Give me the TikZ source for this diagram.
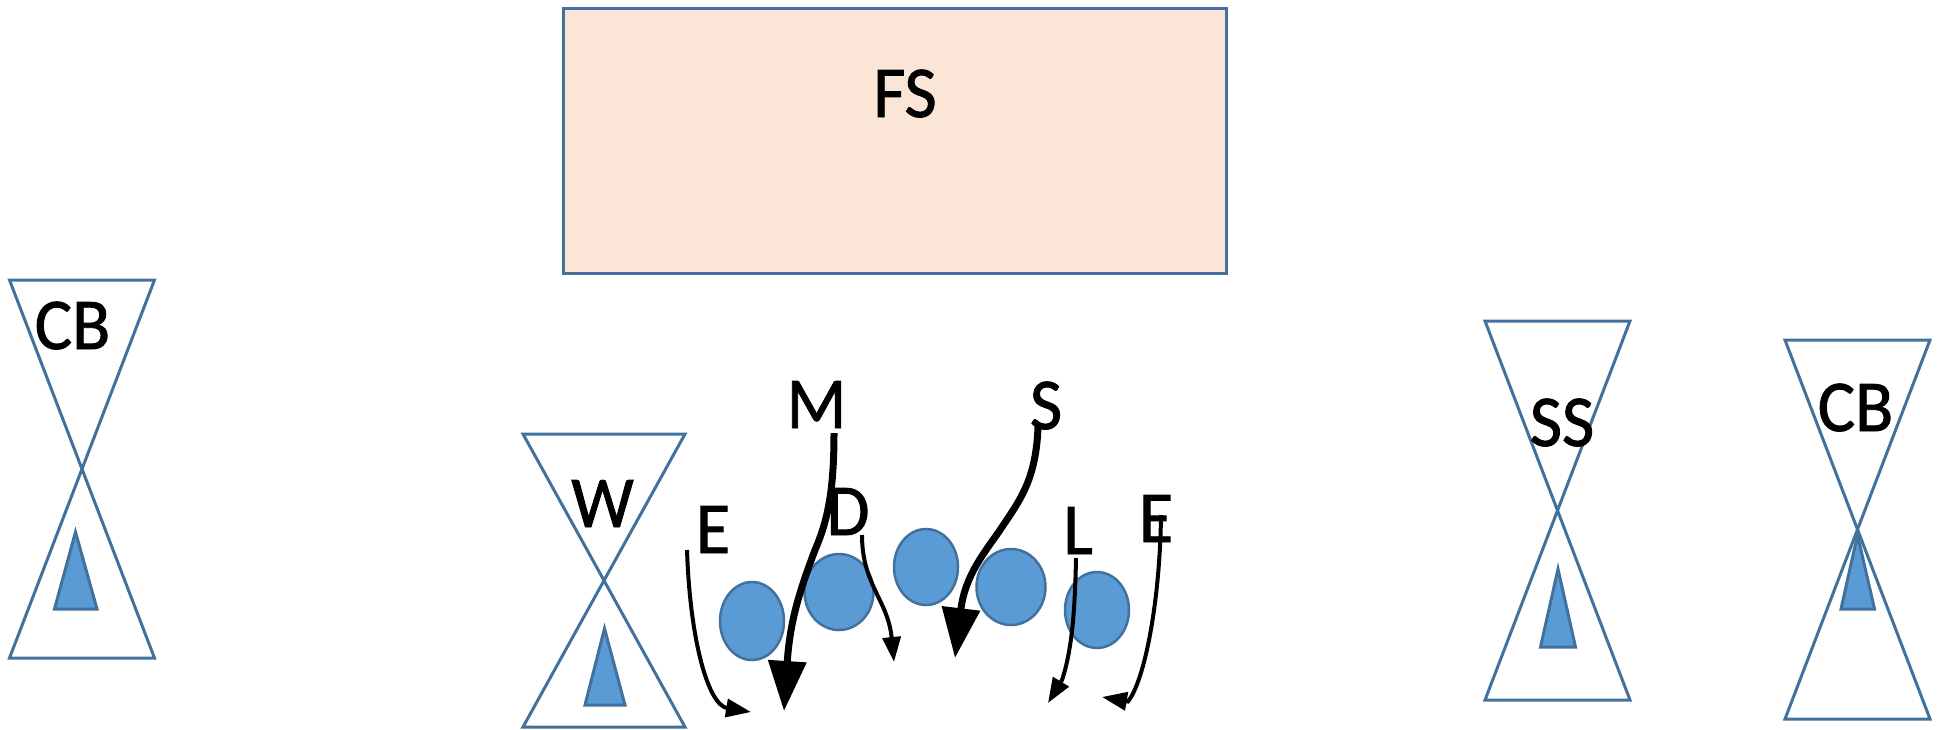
\documentclass[tikz,border=0pt]{standalone}
\usepackage{fontspec}
\setmainfont{Carlito}
\newfontfamily\labfont[FakeBold=1.2,FakeStretch=0.96]{Carlito}
\usetikzlibrary{arrows.meta,shapes.geometric}
\definecolor{edgeblue}{HTML}{41719C}
\definecolor{fillblue}{HTML}{5B9BD5}
\definecolor{fspeach}{HTML}{FBE5D6}
\tikzset{
  glass/.style={draw=edgeblue,line width=3pt,line join=miter},
  cone/.style={draw=edgeblue,fill=fillblue,line width=3pt,line join=miter},
  ball/.style={ellipse,draw=edgeblue,fill=fillblue,line width=2.5pt,inner sep=0pt},
  fsbox/.style={rectangle,draw=edgeblue,fill=fspeach,line width=3pt,inner sep=0pt},
  lab/.style={anchor=base,inner sep=0pt,text=black,font=\labfont\fontsize{73}{80}\selectfont},
  bigflow/.style={draw=black,line width=7pt,-{Triangle[width=37pt,length=50pt]}},
  smallflow/.style={draw=black,line width=4pt,-{Triangle[width=18pt,length=25pt]}}
}
\begin{document}
\begin{tikzpicture}[x=1pt,y=-1pt]
\useasboundingbox (0,0) rectangle (1946,729);
% FS box
\node[fsbox,minimum width=663pt,minimum height=265pt] (fs) at (894.5,140.5) {};
% inner cones
\draw[cone] (75.5,532) -- (97,609) -- (54.5,609) -- cycle;
\draw[cone] (604.5,628.5) -- (625,705) -- (585,705) -- cycle;
\draw[cone] (1558,569) -- (1575.5,647) -- (1540.5,647) -- cycle;
\draw[cone] (1857.5,535) -- (1874.5,609) -- (1841,609) -- cycle;
% hourglasses
\draw[glass] (9.5,280) -- (154.5,280) -- (9.5,658) -- (154.5,658) -- cycle;
\draw[glass] (523,434) -- (685,434) -- (523,727) -- (685,727) -- cycle;
\draw[glass] (1485,321) -- (1630,321) -- (1485,700) -- (1630,700) -- cycle;
\draw[glass] (1785,340) -- (1930,340) -- (1785,719) -- (1930,719) -- cycle;
% balls
\node[ball,minimum width=64pt,minimum height=78pt] (b1) at (752,621) {};
\node[ball,minimum width=69pt,minimum height=76pt] (b2) at (839,592) {};
\node[ball,minimum width=64pt,minimum height=76pt] (b3) at (926,567) {};
\node[ball,minimum width=69pt,minimum height=76pt] (b4) at (1011,587) {};
\node[ball,minimum width=64pt,minimum height=76pt] (b5) at (1097,610) {};
% labels
\node[lab] (tfs) at (905,117) {FS};
\node[lab] (tcb1) at (72.5,349) {CB};
\node[lab] (tw) at (602.5,527) {W};
\node[lab] (te1) at (713,553) {E};
\node[lab] (tm) at (816.5,428) {M};
\node[lab] (td) at (848,535) {D};
\node[lab] (ts) at (1046,429) {S};
\node[lab] (tl) at (1078,554) {L};
\node[lab] (te2) at (1156,542) {E};
\node[lab] (tss) at (1562,446) {SS};
\node[lab] (tcb2) at (1855.5,431) {CB};
% connector ends
\coordinate (m0) at (834,433);   \coordinate (m1) at (784,711);
\coordinate (s0) at (1038,427);  \coordinate (s1) at (955,658);
\coordinate (d0) at (862,535);   \coordinate (d1) at (894,662);
\coordinate (e0) at (687,550);   \coordinate (e1) at (751,712);
\coordinate (l0) at (1076,558);  \coordinate (l1) at (1048,703);
\coordinate (r0) at (1161,515);  \coordinate (r1) at (1102,697);
% flows
\draw[bigflow] (m0) .. controls (834,490) and (828,520) .. (815,550) .. controls (800,590) and (790,620) .. (m1);
\draw[bigflow] (s0) .. controls (1036,480) and (1020,500) .. (1000,530) .. controls (985,552) and (965,575) .. (s1);
\draw[smallflow] (d0) .. controls (862,585) and (888,600) .. (d1);
\draw[smallflow] (e0) .. controls (690,640) and (708,705) .. (e1);
\draw[smallflow] (l0) .. controls (1075,610) and (1072,650) .. (1062,680) -- (l1);
\draw[smallflow] (r0) .. controls (1160,600) and (1145,680) .. (1128,701.5) -- (r1);
\end{tikzpicture}
\end{document}
